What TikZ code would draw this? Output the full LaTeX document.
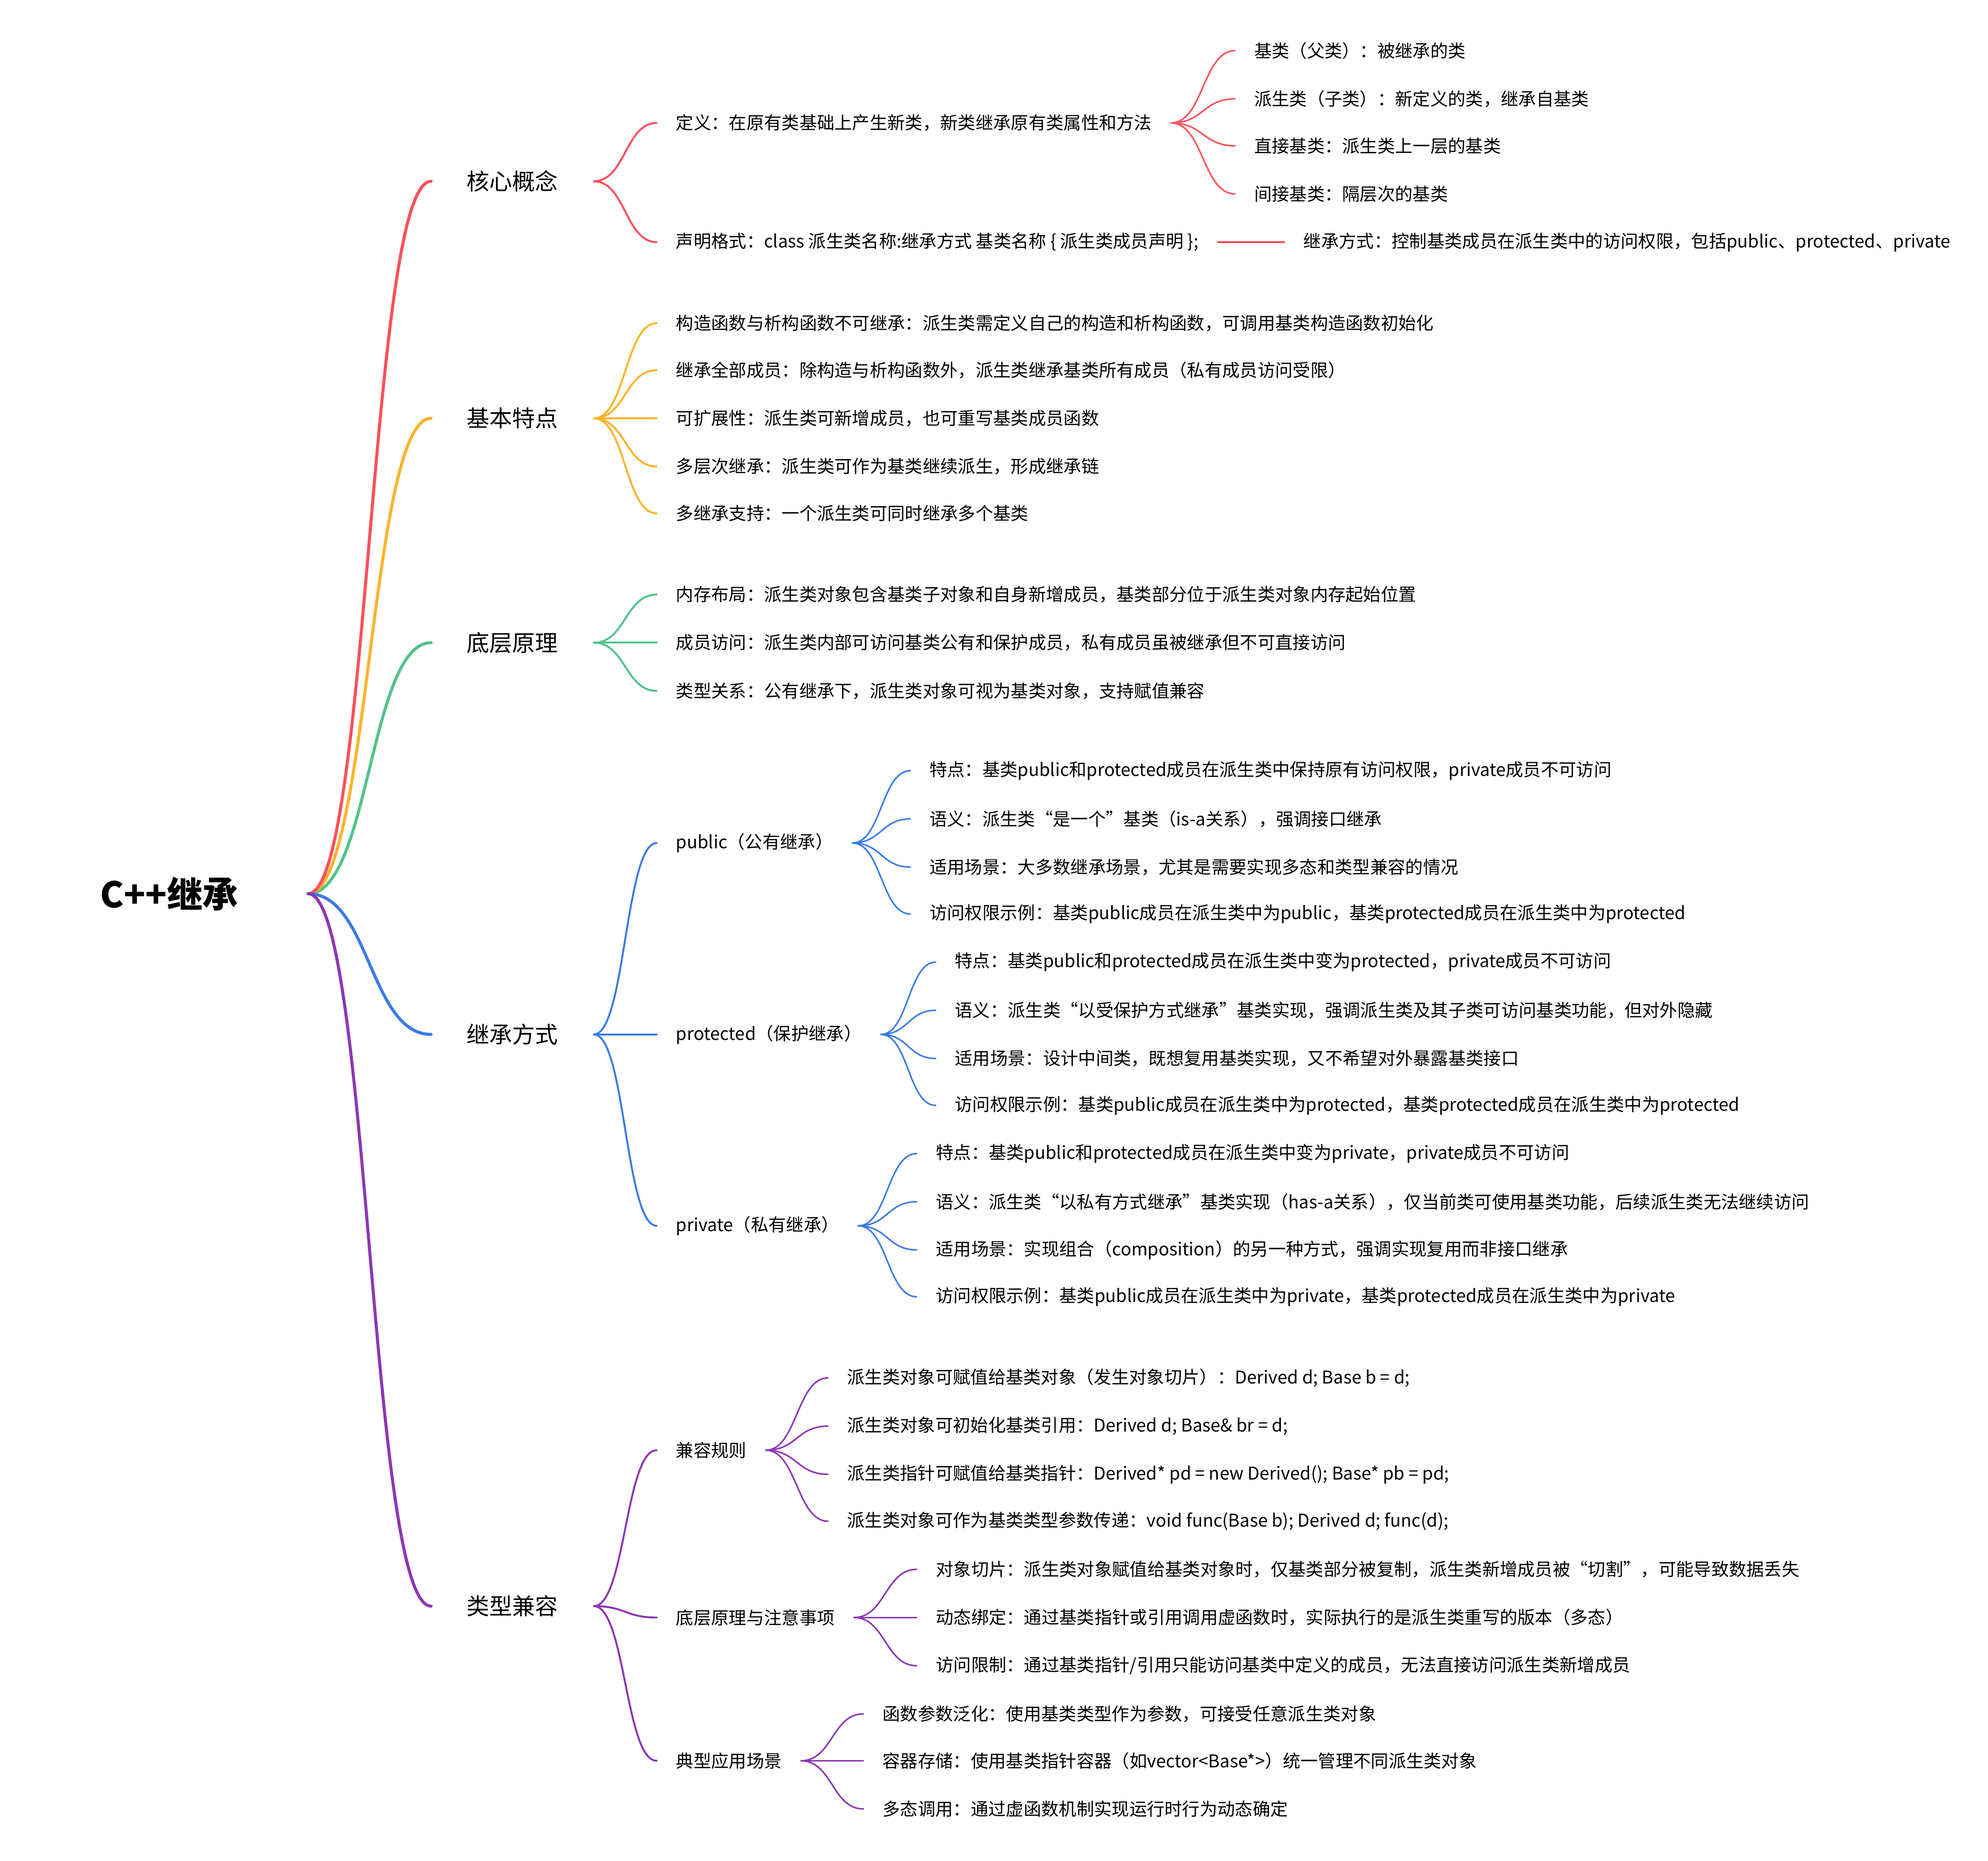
\documentclass[tikz,border=0pt]{standalone}
\usepackage{fontspec}
\setmainfont{Noto Sans CJK SC}
\usepackage{xcolor}
\usepackage{tikz}
\usetikzlibrary{calc}
\definecolor{mmred}{HTML}{FF4F5A}
\definecolor{mmorange}{HTML}{FDB42A}
\definecolor{mmgreen}{HTML}{52C38C}
\definecolor{mmblue}{HTML}{3B7BE6}
\definecolor{mmpurple}{HTML}{8C36B4}
\tikzset{
    mindmap/.style={
        x=1pt, y=-1pt,
        line cap=round,
        rootnode/.style={anchor=east, inner xsep=55pt, font=\fontsize{28}{34}\selectfont\bfseries},
        topic/.style={anchor=west, inner xsep=28pt, font=\fontsize{18}{22}\selectfont},
        leaf/.style={anchor=west, inner xsep=15pt, inner ysep=2pt, font=\fontsize{13.9}{17}\selectfont},
        link/.style={to path={let \p1=(\tikztostart), \p2=(\tikztotarget) in
            .. controls ({(\x1+\x2)/2},\y1) and ({(\x1+\x2)/2},\y2) .. (\tikztotarget)}},
        mainlink/.style={link, line width=2.4pt},
        sublink/.style={link, line width=1.5pt},
        leaflink/.style={link, line width=1.2pt}
    }
}

\begin{document}
\begin{tikzpicture}[mindmap]
    \useasboundingbox (0,0) rectangle (1568,1468);

    % Root and main topics
    \node[rootnode] (root) at (243,705) {C++继承};
    \node[topic] (core) at (340,143) {核心概念};
    \node[topic] (feat) at (340,330) {基本特点};
    \node[topic] (prin) at (340,507) {底层原理};
    \node[topic] (mode) at (340,816) {继承方式};
    \node[topic] (compat) at (340,1267) {类型兼容};

    \draw[mainlink, mmgreen] (root.east) to (prin.west);
    \draw[mainlink, mmorange] (root.east) to (feat.west);
    \draw[mainlink, mmred] (root.east) to (core.west);
    \draw[mainlink, mmblue] (root.east) to (mode.west);
    \draw[mainlink, mmpurple] (root.east) to (compat.west);

    % 核心概念
    \node[leaf] (def) at (518,97) {定义：在原有类基础上产生新类，新类继承原有类属性和方法};
    \node[leaf] (decl) at (518,191) {声明格式：class 派生类名称:继承方式 基类名称 \{ 派生类成员声明 \};};
    \node[leaf] (base) at (974,40) {基类（父类）：被继承的类};
    \node[leaf] (derived) at (974,78) {派生类（子类）：新定义的类，继承自基类};
    \node[leaf] (direct) at (974,115) {直接基类：派生类上一层的基类};
    \node[leaf] (indirect) at (974,153) {间接基类：隔层次的基类};
    \node[leaf] (declmode) at (1013,191) {继承方式：控制基类成员在派生类中的访问权限，包括public、protected、private};

    \foreach \t in {def,decl}
        \draw[sublink, mmred] (core.east) to (\t.west);
    \foreach \t in {base,derived,direct,indirect}
        \draw[leaflink, mmred] (def.east) to (\t.west);
    \draw[leaflink, mmred] (decl.east) to (declmode.west);

    % 基本特点
    \node[leaf] (f1) at (518,255) {构造函数与析构函数不可继承：派生类需定义自己的构造和析构函数，可调用基类构造函数初始化};
    \node[leaf] (f2) at (518,292) {继承全部成员：除构造与析构函数外，派生类继承基类所有成员（私有成员访问受限）};
    \node[leaf] (f3) at (518,330) {可扩展性：派生类可新增成员，也可重写基类成员函数};
    \node[leaf] (f4) at (518,368) {多层次继承：派生类可作为基类继续派生，形成继承链};
    \node[leaf] (f5) at (518,405) {多继承支持：一个派生类可同时继承多个基类};

    \foreach \t in {f1,f2,f3,f4,f5}
        \draw[sublink, mmorange] (feat.east) to (\t.west);

    % 底层原理
    \node[leaf] (p1) at (518,469) {内存布局：派生类对象包含基类子对象和自身新增成员，基类部分位于派生类对象内存起始位置};
    \node[leaf] (p2) at (518,507) {成员访问：派生类内部可访问基类公有和保护成员，私有成员虽被继承但不可直接访问};
    \node[leaf] (p3) at (518,545) {类型关系：公有继承下，派生类对象可视为基类对象，支持赋值兼容};

    \foreach \t in {p1,p2,p3}
        \draw[sublink, mmgreen] (prin.east) to (\t.west);

    % 继承方式
    \node[leaf] (pub) at (518,665) {public（公有继承）};
    \node[leaf] (prot) at (518,816) {protected（保护继承）};
    \node[leaf] (priv) at (518,967) {private（私有继承）};

    \node[leaf] (pub1) at (718,608) {特点：基类public和protected成员在派生类中保持原有访问权限，private成员不可访问};
    \node[leaf] (pub2) at (718,646) {语义：派生类“是一个”基类（is-a关系），强调接口继承};
    \node[leaf] (pub3) at (718,684) {适用场景：大多数继承场景，尤其是需要实现多态和类型兼容的情况};
    \node[leaf] (pub4) at (718,721) {访问权限示例：基类public成员在派生类中为public，基类protected成员在派生类中为protected};

    \node[leaf] (prot1) at (738,759) {特点：基类public和protected成员在派生类中变为protected，private成员不可访问};
    \node[leaf] (prot2) at (738,797) {语义：派生类“以受保护方式继承”基类实现，强调派生类及其子类可访问基类功能，但对外隐藏};
    \node[leaf] (prot3) at (738,835) {适用场景：设计中间类，既想复用基类实现，又不希望对外暴露基类接口};
    \node[leaf] (prot4) at (738,872) {访问权限示例：基类public成员在派生类中为protected，基类protected成员在派生类中为protected};

    \node[leaf] (priv1) at (723,910) {特点：基类public和protected成员在派生类中变为private，private成员不可访问};
    \node[leaf] (priv2) at (723,948) {语义：派生类“以私有方式继承”基类实现（has-a关系），仅当前类可使用基类功能，后续派生类无法继续访问};
    \node[leaf] (priv3) at (723,986) {适用场景：实现组合（composition）的另一种方式，强调实现复用而非接口继承};
    \node[leaf] (priv4) at (723,1023) {访问权限示例：基类public成员在派生类中为private，基类protected成员在派生类中为private};

    \foreach \t in {pub,prot,priv}
        \draw[sublink, mmblue] (mode.east) to (\t.west);
    \foreach \t in {pub1,pub2,pub3,pub4}
        \draw[leaflink, mmblue] (pub.east) to (\t.west);
    \foreach \t in {prot1,prot2,prot3,prot4}
        \draw[leaflink, mmblue] (prot.east) to (\t.west);
    \foreach \t in {priv1,priv2,priv3,priv4}
        \draw[leaflink, mmblue] (priv.east) to (\t.west);

    % 类型兼容
    \node[leaf] (rule) at (518,1144) {兼容规则};
    \node[leaf] (under) at (518,1276) {底层原理与注意事项};
    \node[leaf] (usage) at (518,1389) {典型应用场景};

    \node[leaf] (rule1) at (653,1087) {派生类对象可赋值给基类对象（发生对象切片）：Derived d; Base b = d;};
    \node[leaf] (rule2) at (653,1125) {派生类对象可初始化基类引用：Derived d; Base\& br = d;};
    \node[leaf] (rule3) at (653,1163) {派生类指针可赋值给基类指针：Derived* pd = new Derived(); Base* pb = pd;};
    \node[leaf] (rule4) at (653,1200) {派生类对象可作为基类类型参数传递：void func(Base b); Derived d; func(d);};

    \node[leaf] (under1) at (723,1238) {对象切片：派生类对象赋值给基类对象时，仅基类部分被复制，派生类新增成员被“切割”，可能导致数据丢失};
    \node[leaf] (under2) at (723,1276) {动态绑定：通过基类指针或引用调用虚函数时，实际执行的是派生类重写的版本（多态）};
    \node[leaf] (under3) at (723,1314) {访问限制：通过基类指针/引用只能访问基类中定义的成员，无法直接访问派生类新增成员};

    \node[leaf] (usage1) at (681,1352) {函数参数泛化：使用基类类型作为参数，可接受任意派生类对象};
    \node[leaf] (usage2) at (681,1389) {容器存储：使用基类指针容器（如vector<Base*>）统一管理不同派生类对象};
    \node[leaf] (usage3) at (681,1427) {多态调用：通过虚函数机制实现运行时行为动态确定};

    \foreach \t in {rule,under,usage}
        \draw[sublink, mmpurple] (compat.east) to (\t.west);
    \foreach \t in {rule1,rule2,rule3,rule4}
        \draw[leaflink, mmpurple] (rule.east) to (\t.west);
    \foreach \t in {under1,under2,under3}
        \draw[leaflink, mmpurple] (under.east) to (\t.west);
    \foreach \t in {usage1,usage2,usage3}
        \draw[leaflink, mmpurple] (usage.east) to (\t.west);
\end{tikzpicture}
\end{document}
